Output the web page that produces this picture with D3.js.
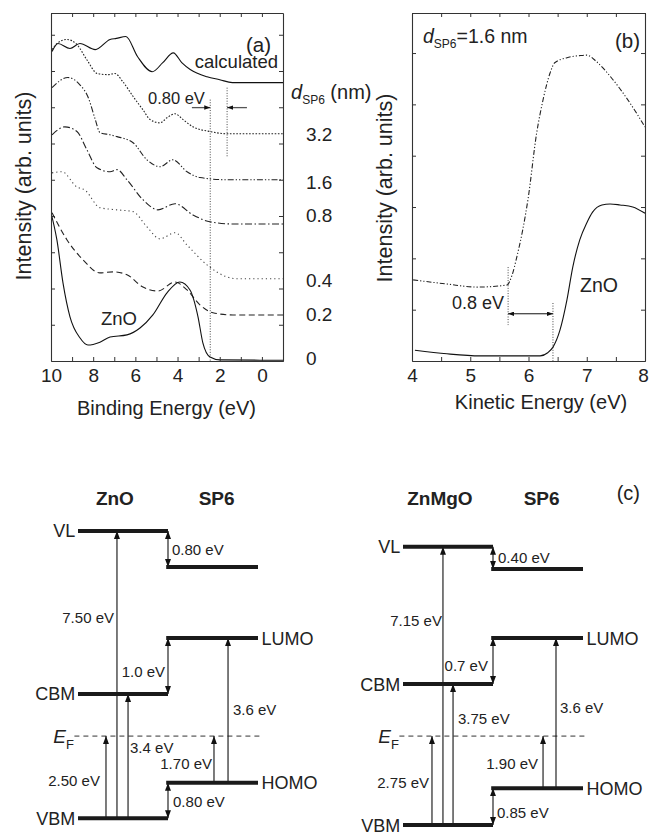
<!DOCTYPE html>
<html>
<head>
<meta charset="utf-8">
<script src="https://cdn.jsdelivr.net/npm/d3@7"></script>
<style>
  body { margin: 0; background: #fff; }
  svg { font-family: "Liberation Sans", Arial, sans-serif; }
</style>
</head>
<body>
<svg id="fig" width="649" height="837"></svg>
<script>
var FONT = '"Liberation Sans", Arial, sans-serif';

// ---------- panel (a): valence band spectra, [binding energy (eV), intensity] ----------
var calcCurve = [[9.95,8.54],[9.67,8.76],[9.1,8.62],[8.63,8.76],[7.9,8.59],[7.2,8.87],[6.9,8.9],[6.45,8.95],
  [5.9,8.4],[5.2,7.98],[4.7,8.23],[4.2,8.5],[3.8,8.23],[3.4,8.04],[2.6,7.84],[2.0,7.76],[1.4,7.68],[-1,7.68]];
var sp32Curve = [[9.95,8.59],[9.67,8.78],[9.25,8.87],[8.77,8.73],[8.3,8.31],[7.8,7.93],[7.3,7.9],[6.97,7.93],
  [6.6,7.71],[6.1,7.29],[5.64,6.93],[5.3,6.66],[4.83,6.57],[4.5,6.71],[4.12,6.82],[3.74,6.66],[3.27,6.46],
  [2.46,6.33],[1.66,6.27],[-1,6.27]];
var sp16Curve = [[9.95,7.54],[9.2,7.82],[8.63,7.62],[8.25,7.29],[7.9,6.66],[7.68,6.3],[7.2,6.24],[6.87,6.19],
  [6.11,6.02],[5.45,5.55],[4.83,5.36],[4.22,5.55],[3.55,5.22],[2.94,5.06],[1.66,5.0],[-1,5.0]];
var sp08Curve = [[9.95,6.24],[9.34,6.46],[8.77,6.33],[8.3,5.83],[7.82,5.33],[7.2,5.22],[6.87,5.28],[6.4,5.0],
  [5.64,4.45],[4.93,4.17],[4.12,4.34],[3.27,4.03],[2.46,3.84],[1.37,3.78],[-1,3.78]];
var sp04Curve = [[9.95,5.19],[9.48,5.22],[8.77,4.8],[8.4,4.72],[7.68,4.23],[6.87,4.17],[6.11,4.12],[5.45,3.7],
  [4.83,3.37],[4.12,3.54],[3.55,3.2],[2.6,2.65],[1.66,2.32],[1.2,2.27],[-1,2.27]];
var sp02Curve = [[9.95,4.09],[9.24,3.34],[8.48,2.79],[7.68,2.43],[7.06,2.46],[6.4,2.38],[5.64,2.04],[4.93,1.93],
  [4.12,2.18],[3.55,1.96],[2.94,1.55],[2.32,1.33],[1.37,1.27],[-1,1.27]];
var znoCurve = [[10,4.09],[9.72,3.34],[9.43,2.15],[9.1,1.22],[8.63,0.64],[8.25,0.44],[7.68,0.52],[7.2,0.66],
  [6.4,0.72],[5.78,0.91],[5.17,1.27],[4.5,1.88],[3.89,2.18],[3.41,1.96],[3.03,1.22],[2.8,0.5],[2.46,0.11],
  [1.99,0.03],[-1,0.02]];
var thickLabels = ["3.2", "1.6", "0.8", "0.4", "0.2", "0"];
var thickLabelY = [6.08, 4.75, 3.84, 2.04, 1.10, -0.11];
var aTicks = [10, 8, 6, 4, 2, 0];
var aMinor = [9, 7, 5, 3, 1];
var onsetZnO = 2.45, onsetSP6 = 1.65;   // VBM onsets (eV)

// ---------- panel (b): secondary electron cutoff, [kinetic energy (eV), intensity] ----------
var sp6Cutoff = [[4.02,1.58],[4.6,1.5],[5.11,1.44],[5.63,1.48],[5.72,1.68],[5.8,2.03],[5.9,2.55],[5.99,3.14],
  [6.14,4.44],[6.25,5.09],[6.37,5.61],[6.45,5.81],[6.66,5.91],[6.88,5.95],[7.0,5.96],[7.17,5.83],[7.45,5.48],
  [7.74,5.03],[8.0,4.56]];
var znoCutoff = [[4.05,0.21],[4.6,0.14],[5.17,0.10],[5.73,0.10],[6.2,0.10],[6.33,0.16],[6.42,0.27],[6.54,0.6],
  [6.66,1.19],[6.76,1.83],[6.88,2.36],[7.0,2.69],[7.1,2.9],[7.26,3.04],[7.4,3.06],[7.57,3.04],[7.79,3.0],[8.0,2.88]];
var bTicks = [4, 5, 6, 7, 8];
var bMinor = [4.5, 5.5, 6.5, 7.5];
var cutSP6 = 5.65, cutZnO = 6.42;

// ---------- panel (c): energy level diagrams (drawing heights, not to scale) ----------
var znoLevels = [["VL", 7.74], ["CBM", 3.45], ["VBM", 0.18]];
var sp6LevelsL = [["", 6.79], ["LUMO", 4.92], ["HOMO", 1.11]];
var zmgLevels = [["VL", 7.32], ["CBM", 3.71], ["VBM", 0]];
var sp6LevelsR = [["", 6.74], ["LUMO", 4.92], ["HOMO", 0.97]];
var fermiH = 2.34;
// [column, from, to, double headed]
var leftArrows = [[0.433,0.18,7.74,0],[0.556,0.18,3.45,0],[0.311,0.18,2.34,0],[1.0,7.74,6.79,1],
  [1.0,4.92,3.45,1],[1.0,1.11,0.18,1],[1.667,1.11,4.92,0],[1.511,1.11,2.34,0]];
var leftLabels = [["7.50 eV",0.4,5.47,"end"],["3.4 eV",0.578,2.05,"start"],["2.50 eV",0.244,1.18,"end"],
  ["0.80 eV",1.044,7.26,"start"],["1.0 eV",0.967,4.03,"end"],["0.80 eV",1.056,0.61,"start"],
  ["3.6 eV",1.722,3.05,"start"],["1.70 eV",1.489,1.61,"end"]];
var rightArrows = [[0.444,0,7.32,0],[0.556,0,3.71,0],[0.322,0,2.34,0],[1.0,7.32,6.74,1],
  [1.0,4.92,3.71,1],[1.0,0.97,0,1],[1.7,0.97,4.92,0],[1.556,0.97,2.34,0]];
var rightLabels = [["7.15 eV",0.433,5.37,"end"],["3.75 eV",0.611,2.79,"start"],["2.75 eV",0.289,1.13,"end"],
  ["0.40 eV",1.056,7.05,"start"],["0.7 eV",0.944,4.21,"end"],["0.85 eV",1.044,0.34,"start"],
  ["3.6 eV",1.744,3.1,"start"],["1.90 eV",1.5,1.63,"end"]];

var svg = d3.select("#fig");
svg.append("rect").attr("width", 649).attr("height", 837).attr("fill", "#fff");

var defs = svg.append("defs");
function marker(id, len, wid) {
  defs.append("marker").attr("id", id)
    .attr("viewBox", "0 0 10 10").attr("refX", 10).attr("refY", 5)
    .attr("markerUnits", "userSpaceOnUse")
    .attr("markerWidth", len).attr("markerHeight", wid)
    .attr("preserveAspectRatio", "none")
    .attr("orient", "auto-start-reverse")
    .append("path").attr("d", "M0,0L10,5L0,10Z").attr("fill", "#111");
}
marker("head", 8, 6);
marker("small", 6, 4.5);

function txt(g, x, y, s, size, anchor) {
  return g.append("text").attr("x", x).attr("y", y).text(s)
    .attr("font-size", size).attr("fill", "#222")
    .attr("text-anchor", anchor || "start").attr("font-family", FONT);
}

// framed plot with inward ticks on all four sides
function frame(x, y, majors, minors, yTicks) {
  var g = svg.append("g").attr("color", "#333");
  var b = y.range()[0], t = y.range()[1], l = x.range()[0], r = x.range()[1];
  g.append("g").attr("class", "xlab").attr("transform", "translate(0," + b + ")")
    .call(d3.axisBottom(x).tickValues(majors).tickSize(-4).tickSizeOuter(0).tickPadding(7.5).tickFormat(d3.format("d")))
    .attr("font-size", 19).attr("font-family", FONT)
    .selectAll("text").attr("fill", "#222");
  g.append("g").attr("transform", "translate(0," + b + ")")
    .call(d3.axisBottom(x).tickValues(minors).tickSize(-4).tickSizeOuter(0).tickFormat(""));
  g.append("g").attr("transform", "translate(0," + t + ")")
    .call(d3.axisTop(x).tickValues(majors.concat(minors)).tickSize(-4).tickSizeOuter(0).tickFormat(""));
  g.append("g").attr("transform", "translate(" + l + ",0)")
    .call(d3.axisLeft(y).tickValues(yTicks).tickSize(-4).tickSizeOuter(0).tickFormat(""));
  g.append("g").attr("transform", "translate(" + r + ",0)")
    .call(d3.axisRight(y).tickValues(yTicks).tickSize(-4).tickSizeOuter(0).tickFormat(""));
  g.selectAll(".domain").attr("stroke-width", 1.1);
  return g;
}

// ===== panel (a) =====
var xA = d3.scaleLinear().domain([10, -1]).range([51, 283]),
    yA = d3.scaleLinear().domain([0, 9.6]).range([361, 13]);
var lineA = d3.line().x(function(d) { return xA(d[0]); }).y(function(d) { return yA(d[1]); })
    .curve(d3.curveMonotoneX);

defs.append("clipPath").attr("id", "clipA").append("rect")
  .attr("x", 51).attr("y", 13).attr("width", 232).attr("height", 348);

var aSeries = [
  { data: calcCurve, dash: null, color: "#111" },
  { data: sp32Curve, dash: "1.6,1.6", color: "#222" },
  { data: sp16Curve, dash: "6,2,1.3,2,1.3,2", color: "#222" },
  { data: sp08Curve, dash: "7,2.5,1.5,2.5", color: "#222" },
  { data: sp04Curve, dash: "1.2,3", color: "#444" },
  { data: sp02Curve, dash: "6,3.5", color: "#222" },
  { data: znoCurve, dash: null, color: "#111" }
];
svg.append("g").attr("clip-path", "url(#clipA)")
  .selectAll("path").data(aSeries).enter().append("path")
  .attr("d", function(d) { return lineA(d.data); })
  .attr("fill", "none").attr("stroke", function(d) { return d.color; })
  .attr("stroke-width", 1.1)
  .attr("stroke-dasharray", function(d) { return d.dash; });

// onset markers
svg.append("line").attr("x1", xA(onsetZnO)).attr("x2", xA(onsetZnO)).attr("y1", yA(7.21)).attr("y2", yA(0))
  .attr("stroke", "#333").attr("stroke-width", 0.9).attr("stroke-dasharray", "1,1.6");
svg.append("line").attr("x1", xA(onsetSP6)).attr("x2", xA(onsetSP6)).attr("y1", yA(7.54)).attr("y2", yA(5.64))
  .attr("stroke", "#333").attr("stroke-width", 0.9).attr("stroke-dasharray", "1,1.6");
svg.append("line").attr("x1", xA(3.32)).attr("x2", xA(onsetZnO)).attr("y1", yA(6.99)).attr("y2", yA(6.99))
  .attr("stroke", "#555").attr("stroke-width", 1.3).attr("marker-end", "url(#small)");
svg.append("line").attr("x1", xA(0.71)).attr("x2", xA(onsetSP6)).attr("y1", yA(6.99)).attr("y2", yA(6.99))
  .attr("stroke", "#555").attr("stroke-width", 1.3).attr("marker-end", "url(#small)");

frame(xA, yA, aTicks, aMinor, d3.range(1, 10));

txt(svg, 271, 52, "(a)", 20.5, "end");
txt(svg, 278, 68, "calculated", 18.5, "end");
txt(svg, 148, 104, "0.80 eV", 16.5);
txt(svg, 101, 325, "ZnO", 18.5);
var dl = txt(svg, 291, 99, "", 20);
dl.append("tspan").attr("font-style", "italic").text("d");
dl.append("tspan").attr("font-size", 12).attr("dy", 5).text("SP6");
dl.append("tspan").attr("dy", -5).text(" (nm)");
svg.append("g").selectAll("text").data(thickLabels).enter().append("text")
  .attr("x", 306).attr("y", function(d, i) { return yA(thickLabelY[i]); })
  .attr("font-size", 19).attr("fill", "#222").attr("font-family", FONT)
  .text(function(d) { return d; });
txt(svg, 166.5, 415, "Binding Energy (eV)", 20, "middle");
txt(svg, 0, 0, "Intensity (arb. units)", 21.5, "middle")
  .attr("transform", "translate(31,186) rotate(-90)");

// ===== panel (b) =====
var xB = d3.scaleLinear().domain([4, 8]).range([412, 645]),
    yB = d3.scaleLinear().domain([0, 6.78]).range([361, 13]);
var lineB = d3.line().x(function(d) { return xB(d[0]); }).y(function(d) { return yB(d[1]); })
    .curve(d3.curveMonotoneX);
defs.append("clipPath").attr("id", "clipB").append("rect")
  .attr("x", 412).attr("y", 13).attr("width", 233).attr("height", 348);
var gB = svg.append("g").attr("clip-path", "url(#clipB)");
gB.append("path").attr("d", lineB(sp6Cutoff)).attr("fill", "none").attr("stroke", "#222")
  .attr("stroke-width", 1.1).attr("stroke-dasharray", "5,2,1.2,2,1.2,2");
gB.append("path").attr("d", lineB(znoCutoff)).attr("fill", "none").attr("stroke", "#111")
  .attr("stroke-width", 1.1);

svg.append("line").attr("x1", xB(cutSP6)).attr("x2", xB(cutSP6)).attr("y1", yB(1.83)).attr("y2", yB(0.70))
  .attr("stroke", "#333").attr("stroke-width", 0.9).attr("stroke-dasharray", "1,1.6");
svg.append("line").attr("x1", xB(cutZnO)).attr("x2", xB(cutZnO)).attr("y1", yB(1.13)).attr("y2", yB(0))
  .attr("stroke", "#333").attr("stroke-width", 0.9).attr("stroke-dasharray", "1,1.6");
svg.append("line").attr("x1", xB(cutSP6)).attr("x2", xB(cutZnO)).attr("y1", yB(0.92)).attr("y2", yB(0.92))
  .attr("stroke", "#111").attr("stroke-width", 1)
  .attr("marker-start", "url(#small)").attr("marker-end", "url(#small)");

var fB = frame(xB, yB, bTicks, bMinor, d3.range(1, 7));
// keep the last tick label inside the page
fB.select(".xlab").selectAll("text").filter(function(d) { return d === 8; }).attr("dx", -2);

var dt = txt(svg, 423, 43, "", 19.5);
dt.append("tspan").attr("font-style", "italic").text("d");
dt.append("tspan").attr("font-size", 12).attr("dy", 5).text("SP6");
dt.append("tspan").attr("dy", -5).text("=1.6 nm");
txt(svg, 640, 48, "(b)", 20.5, "end");
txt(svg, 452, 309, "0.8 eV", 18);
txt(svg, 580, 292, "ZnO", 19.5);
txt(svg, 541, 409, "Kinetic Energy (eV)", 20, "middle");
txt(svg, 0, 0, "Intensity (arb. units)", 21.5, "middle")
  .attr("transform", "translate(392,188) rotate(-90)");

// ===== panel (c) =====
var yC = d3.scaleLinear().domain([0, 8]).range([825, 521]);

function diagram(x, matName, matLevels, spLevels, arrows, labels) {
  var g = svg.append("g");
  txt(g, x(0.41), 505, matName, 19, "middle").attr("font-weight", "bold");
  txt(g, x(1.54), 505, "SP6", 19, "middle").attr("font-weight", "bold");

  // Fermi level
  g.append("line").attr("x1", x(-0.04)).attr("x2", x(2.02)).attr("y1", yC(fermiH)).attr("y2", yC(fermiH))
    .attr("stroke", "#333").attr("stroke-width", 1).attr("stroke-dasharray", "5,4");
  var ef = txt(g, x(-0.045), yC(fermiH) + 7, "", 19, "end");
  ef.append("tspan").attr("font-style", "italic").text("E");
  ef.append("tspan").attr("font-size", 13).attr("dy", 6).text("F");

  // arrows
  g.selectAll(".arr").data(arrows).enter().append("line")
    .attr("x1", function(d) { return x(d[0]); }).attr("x2", function(d) { return x(d[0]); })
    .attr("y1", function(d) { return yC(d[1]); }).attr("y2", function(d) { return yC(d[2]); })
    .attr("stroke", "#111").attr("stroke-width", 1.1)
    .attr("marker-end", "url(#head)")
    .attr("marker-start", function(d) { return d[3] ? "url(#head)" : null; });

  // levels
  g.selectAll(".lm").data(matLevels).enter().append("line")
    .attr("x1", x(0)).attr("x2", x(1))
    .attr("y1", function(d) { return yC(d[1]); }).attr("y2", function(d) { return yC(d[1]); })
    .attr("stroke", "#1a1a1a").attr("stroke-width", 4);
  g.selectAll(".ls").data(spLevels).enter().append("line")
    .attr("x1", x(0.98)).attr("x2", x(2))
    .attr("y1", function(d) { return yC(d[1]); }).attr("y2", function(d) { return yC(d[1]); })
    .attr("stroke", "#1a1a1a").attr("stroke-width", 4);

  matLevels.forEach(function(d) {
    txt(g, x(-0.03), yC(d[1]) + 6.5, d[0], 18, "end");
  });
  spLevels.forEach(function(d) {
    if (d[0]) txt(g, x(2.04), yC(d[1]) + 6.5, d[0], 18);
  });
  labels.forEach(function(d) {
    txt(g, x(d[1]), yC(d[2]) + 5.5, d[0], 15, d[3]);
  });
}

var xL = d3.scaleLinear().domain([0, 2]).range([78, 258]);
var xR = d3.scaleLinear().domain([0, 2]).range([403, 583]);
diagram(xL, "ZnO", znoLevels, sp6LevelsL, leftArrows, leftLabels);
diagram(xR, "ZnMgO", zmgLevels, sp6LevelsR, rightArrows, rightLabels);
txt(svg, 640, 500, "(c)", 20, "end");
</script>
</body>
</html>
